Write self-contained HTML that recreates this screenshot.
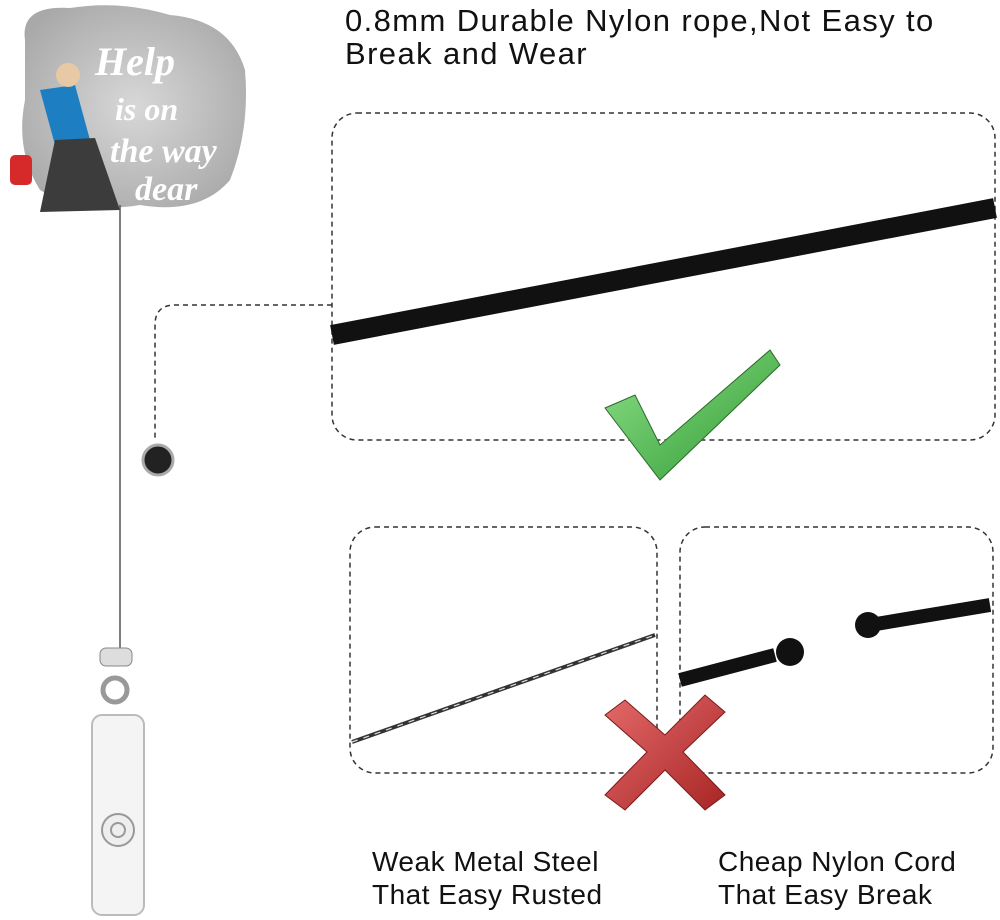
<!DOCTYPE html>
<html><head><meta charset="utf-8"><style>
html,body{margin:0;padding:0;background:#fff;}
body{width:1000px;height:920px;position:relative;overflow:hidden;font-family:"Liberation Sans",sans-serif;}
.t{position:absolute;color:#111;font-size:30px;line-height:33px;letter-spacing:0.5px;}
</style></head><body>
<svg width="1000" height="920" style="position:absolute;left:0;top:0">
<defs>
<radialGradient id="gl" cx="50%" cy="50%" r="60%"><stop offset="0" stop-color="#d8d8d8"/><stop offset="1" stop-color="#a9a9a9"/></radialGradient>
<linearGradient id="gr" x1="0" y1="0" x2="1" y2="1"><stop offset="0" stop-color="#8fe08a"/><stop offset="1" stop-color="#2f9a32"/></linearGradient>
<linearGradient id="rd" x1="0" y1="0" x2="1" y2="1"><stop offset="0" stop-color="#e46a6a"/><stop offset="1" stop-color="#a82525"/></linearGradient>
</defs>
<path d="M25 40 Q20 5 70 8 Q120 0 170 15 Q230 20 245 70 Q250 130 230 180 Q200 215 140 205 Q80 215 40 190 Q15 150 25 100 Z" fill="url(#gl)"/>
<text x="95" y="75" font-family="Liberation Serif" font-style="italic" font-weight="bold" font-size="40" fill="#fff">Help</text>
<text x="115" y="120" font-family="Liberation Serif" font-style="italic" font-weight="bold" font-size="32" fill="#fff">is on</text>
<text x="110" y="162" font-family="Liberation Serif" font-style="italic" font-weight="bold" font-size="34" fill="#fff">the way</text>
<text x="135" y="200" font-family="Liberation Serif" font-style="italic" font-weight="bold" font-size="34" fill="#fff">dear</text>
<path d="M40 90 L75 85 L90 140 L55 145 Z" fill="#1d7fc1"/>
<path d="M55 140 L95 138 L120 210 L40 212 Z" fill="#3c3c3c"/>
<rect x="10" y="155" width="22" height="30" rx="5" fill="#d62a2a"/>
<circle cx="68" cy="75" r="12" fill="#e8c9a5"/>
<line x1="120" y1="205" x2="120" y2="650" stroke="#555" stroke-width="1.5"/>
<rect x="100" y="648" width="32" height="18" rx="6" fill="#ddd" stroke="#888"/>
<circle cx="115" cy="690" r="12" fill="none" stroke="#999" stroke-width="5"/>
<circle cx="120" cy="735" r="9" fill="none" stroke="#aaa" stroke-width="4"/>
<rect x="92" y="715" width="52" height="200" rx="10" fill="#f4f4f4" stroke="#bbb" stroke-width="2"/>
<circle cx="118" cy="830" r="16" fill="#eee" stroke="#999" stroke-width="2"/>
<circle cx="118" cy="830" r="7" fill="none" stroke="#999" stroke-width="2"/>
<rect x="332" y="113" width="663" height="327" rx="25" fill="none" stroke="#333" stroke-width="1.5" stroke-dasharray="5,4"/>
<rect x="350" y="527" width="307" height="246" rx="25" fill="none" stroke="#333" stroke-width="1.5" stroke-dasharray="5,4"/>
<rect x="680" y="527" width="313" height="246" rx="25" fill="none" stroke="#333" stroke-width="1.5" stroke-dasharray="5,4"/>
<path d="M332 305 L175 305 Q155 305 155 325 L155 440" fill="none" stroke="#333" stroke-width="1.5" stroke-dasharray="5,4"/>
<circle cx="158" cy="460" r="15" fill="#222" stroke="#aaa" stroke-width="3"/>
<line x1="332" y1="335" x2="995" y2="208" stroke="#111" stroke-width="20"/>
<path d="M605 408 L635 395 L660 445 L770 350 L780 365 L660 480 Z" fill="url(#gr)" stroke="#2a6a2a" stroke-width="1"/>
<line x1="352" y1="742" x2="655" y2="635" stroke="#333" stroke-width="4"/>
<line x1="352" y1="742" x2="655" y2="635" stroke="#ddd" stroke-width="1.2" stroke-dasharray="6,6"/>
<path d="M680 680 L775 655" stroke="#111" stroke-width="14"/>
<circle cx="790" cy="652" r="14" fill="#111"/>
<path d="M870 625 L990 605" stroke="#111" stroke-width="14"/>
<circle cx="868" cy="625" r="13" fill="#111"/>
<path d="M605 715 L625 700 L665 735 L705 695 L725 712 L683 752 L725 795 L705 810 L665 770 L625 810 L605 795 L647 752 Z" fill="url(#rd)" stroke="#7a1a1a" stroke-width="1"/>
</svg>
<div class="t" style="left:345px;top:4px;font-size:31px;letter-spacing:1.4px;">0.8mm Durable Nylon rope,Not Easy to<br>Break and Wear</div>
<div class="t" style="left:372px;top:845px;font-size:28px;">Weak Metal Steel<br>That Easy Rusted</div>
<div class="t" style="left:718px;top:845px;font-size:28px;">Cheap Nylon Cord<br>That Easy Break</div>
</body></html>
